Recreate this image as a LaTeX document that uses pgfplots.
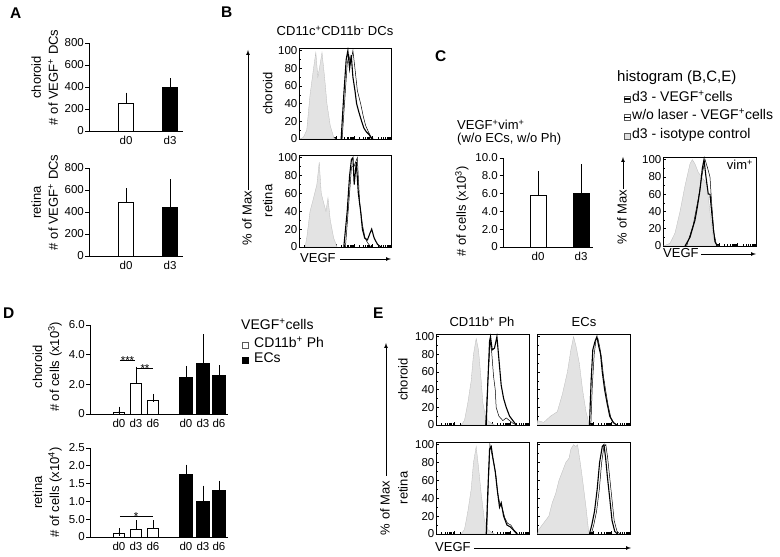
\documentclass[border=0pt]{standalone}
\usepackage{fontspec}
\setmainfont{Liberation Sans}
\usepackage{pgfplots}
\pgfplotsset{compat=1.18}
\newcommand\tf{\fontsize{11.5}{14}\selectfont}
\newcommand\lf{\fontsize{13}{17}\selectfont}
\pgfplotsset{
  bax/.style={scale only axis, axis lines*=left, axis line style={black,line width=0.8pt},
    ymin=0, xmin=0, tick style={black,line width=0.8pt}, tick align=outside,
    major tick length=3.5pt, xtick style={draw=none}, xticklabel style={inner sep=1.5pt},
    yticklabel style={inner sep=1.5pt},
    tick label style={font=\tf}, label style={font=\lf},
    /pgf/number format/assume math mode=true, ylabel style={align=center}, clip=false},
  wbar/.style={ybar, bar shift=0pt, bar width=#1, fill=white, draw=black, line width=0.8pt,
    error bars/.cd, y dir=plus, y explicit, error bar style={black,line width=0.8pt},
    error mark options={black,line width=0.8pt,mark size=4pt}},
  kbar/.style={ybar, bar shift=0pt, bar width=#1, fill=black, draw=black, line width=0.8pt,
    error bars/.cd, y dir=plus, y explicit, error bar style={black,line width=0.8pt},
    error mark options={black,line width=0.8pt,mark size=4pt}},
  hist/.style={scale only axis, xmin=0, xmax=100, ymin=0, ymax=103,
    xtick={0,20,40,60,80,100}, xticklabels={},
    minor xtick={6,9.5,12,14,15.6,16.9,18.1,19.1,26,29.5,32,34,35.6,36.9,38.1,39.1,46,49.5,52,54,55.6,56.9,58.1,59.1,66,69.5,72,74,75.6,76.9,78.1,79.1,86,89.5,92,94,95.6,96.9,98.1,99.1},
    ytick={0,20,40,60,80,100}, minor ytick={10,30,50,70,90},
    xtick pos=bottom, ytick pos=left, tick align=inside,
    major tick length=3pt, minor tick length=1.6pt,
    tick style={black,line width=0.5pt}, axis line style={black,line width=0.8pt},
    yticklabel style={inner sep=1.5pt},
    tick label style={font=\tf}, label style={font=\lf},
    /pgf/number format/assume math mode=true, clip=true},
  gfill/.style={fill=gray!22, draw=gray!55, line width=0.3pt},
  thk/.style={black, line width=1.1pt},
  thn/.style={black, line width=0.5pt},
}
\begin{document}
\lf
\begin{tikzpicture}
\path[use as bounding box] (0pt,0pt) rectangle (780pt,557pt);

% ---------- panel letters ----------
\begingroup\fontsize{15.5}{18}\selectfont\bfseries
\node[anchor=base west,inner sep=0] at (10pt,538pt) {A};
\node[anchor=base west,inner sep=0] at (221pt,539pt) {B};
\node[anchor=base west,inner sep=0] at (435pt,495pt) {C};
\node[anchor=base west,inner sep=0] at (3pt,238pt) {D};
\node[anchor=base west,inner sep=0] at (373pt,238pt) {E};
\endgroup

% ---------- A top ----------
\begin{axis}[bax, at={(89pt,426pt)}, anchor=south west, width=94pt, height=88pt,
  xmax=94, ymax=800, ytick={0,200,400,600,800}, xtick={37,81}, xticklabels={d0,d3},
  ylabel={choroid\\\# of VEGF\textsuperscript{+} DCs},
  ylabel style={at={(axis description cs:-0.47,0.61)}, anchor=center}]
\addplot[wbar=15pt] coordinates {(37,252) +- (0,61)};
\addplot[kbar=15pt] coordinates {(81,398) +- (0,43)};
\end{axis}

% ---------- A bottom ----------
\begin{axis}[bax, at={(89pt,301pt)}, anchor=south west, width=94pt, height=88pt,
  xmax=94, ymax=800, ytick={0,200,400,600,800}, xtick={37,81}, xticklabels={d0,d3},
  ylabel={retina\\\# of VEGF\textsuperscript{+} DCs},
  ylabel style={at={(axis description cs:-0.47,0.61)}, anchor=center}]
\addplot[wbar=15pt] coordinates {(37,485) +- (0,95)};
\addplot[kbar=15pt] coordinates {(81,440) +- (0,222)};
\end{axis}

% ---------- B ----------
\node[anchor=base] at (335pt,521pt) {CD11c\textsuperscript{+}CD11b\textsuperscript{-} DCs};
\node[rotate=90] at (247pt,339pt) {\% of Max};
\draw[-latex, line width=0.7pt] (248pt,367pt) -- (248pt,507pt);
\node[anchor=base west,inner sep=0] at (300pt,294pt) {VEGF};
\draw[-latex, line width=0.7pt] (340pt,298pt) -- (391pt,298pt);

\begin{axis}[hist, at={(299pt,418pt)}, anchor=south west, width=92pt, height=91pt,
  ylabel={choroid}, ylabel style={at={(axis description cs:-0.34,0.5)}, anchor=center}]
\addplot[gfill] coordinates {(1,0)(4.8,2)(8.4,10)(12,50)(15.8,80)(18.3,98)(20.5,70)(23,85)(25,98)(27.8,70)(30.4,40)(34,15)(37.7,2)(39.6,0)} \closedcycle;
\addplot[thn] coordinates {(46.9,0)(49.8,45)(52.4,85)(54.2,95)(56,85)(58.6,100)(60.8,80)(63.4,55)(67,40)(70,25)(72.5,15)(75.5,8)(78,3)(80.6,0)};
\addplot[thk] coordinates {(45.8,0)(48.7,50)(51.3,90)(53.1,100)(55,80)(56.8,95)(58.6,70)(60.8,55)(62.6,40)(65.2,30)(68.1,20)(70.7,12)(73.3,8)(76.2,5)(79.1,0)};
\end{axis}

\begin{axis}[hist, at={(299pt,310pt)}, anchor=south west, width=92pt, height=92pt,
  ylabel={retina}, ylabel style={at={(axis description cs:-0.34,0.5)}, anchor=center}]
\addplot[gfill] coordinates {(6.6,0)(8.4,10)(12,40)(15.8,55)(19.4,70)(22,95)(24.2,60)(26.7,50)(29.3,40)(31.5,55)(34,30)(37.7,10)(41.4,0)} \closedcycle;
\addplot[thn] coordinates {(50.5,0)(54.2,50)(57.1,90)(59.7,90)(63.4,100)(65.9,50)(68.9,25)(71.8,10)(74.4,5)(78,0)};
\addplot[thk] coordinates {(48.7,0)(52.4,40)(55,80)(57,98)(58.6,100)(60,70)(62.3,95)(64.5,60)(67,40)(68.9,20)(71.4,10)(74.4,8)(77,15)(79,20)(81.7,10)(85.3,3)(89,0)};
\end{axis}

% ---------- C ----------
\node[anchor=base west,inner sep=0] at (457pt,427pt) {VEGF\textsuperscript{+}vim\textsuperscript{+}};
\node[anchor=base west,inner sep=0] at (457pt,414pt) {(w/o ECs, w/o Ph)};

\begin{axis}[bax, at={(503pt,310pt)}, anchor=south west, width=90pt, height=89pt,
  xmax=90, ymax=10, ytick={0,2,4,6,8,10}, yticklabels={0,2.0,4.0,6.0,8.0,10.0},
  xtick={35,78}, xticklabels={d0,d3},
  ylabel={\# of cells (x10\textsuperscript{3})},
  ylabel style={at={(axis description cs:-0.456,0.40)}, anchor=center}]
\addplot[wbar=16pt] coordinates {(35,5.85) +- (0,2.26)};
\addplot[kbar=16pt] coordinates {(78,6.04) +- (0,2.83)};
\end{axis}

\begingroup\fontsize{15}{17}\selectfont
\node[anchor=base west,inner sep=0] at (617pt,475pt) {histogram (B,C,E)};
\endgroup
\begingroup\fontsize{14}{16}\selectfont
\draw[gray!70!black, line width=0.5pt] (624pt,455pt) rectangle (630pt,461pt);
\draw[black, line width=1.1pt] (624pt,458pt) -- (630pt,458pt);
\node[anchor=base west,inner sep=0] at (632pt,455pt) {d3 - VEGF\textsuperscript{+}cells};
\draw[gray!70!black, line width=0.5pt] (624pt,437pt) rectangle (630pt,443pt);
\draw[black, line width=0.5pt] (624pt,440pt) -- (630pt,440pt);
\node[anchor=base west,inner sep=0] at (632pt,437pt) {w/o laser - VEGF\textsuperscript{+}cells};
\draw[gray!70!black, fill=gray!25, line width=0.5pt] (624pt,418pt) rectangle (630pt,424pt);
\node[anchor=base west,inner sep=0] at (632pt,418pt) {d3 - isotype control};
\endgroup

\node[rotate=90] at (622pt,340pt) {\% of Max};
\draw[-latex, line width=0.7pt] (623pt,368pt) -- (623pt,400pt);
\node[anchor=base west,inner sep=0] at (663pt,299pt) {VEGF};
\draw[-latex, line width=0.7pt] (701pt,303pt) -- (756pt,303pt);

\begin{axis}[hist, at={(663pt,311pt)}, anchor=south west, width=93pt, height=89pt]
\addplot[gfill] coordinates {(0.4,0)(7.5,3)(12.9,15)(18.3,40)(23.7,70)(29,95)(31.5,100)(34.4,95)(38,85)(41.6,80)(47,72)(50.5,40)(54,10)(57,2)(59.5,0)} \closedcycle;
\addplot[thn] coordinates {(25.4,0)(32.6,25)(38,55)(41.6,80)(45.2,100)(48,90)(50.5,80)(52.3,50)(54.8,15)(57.7,0)};
\addplot[thk] coordinates {(23.7,0)(29,10)(34.4,30)(36.9,45)(39.8,65)(42.3,90)(44.1,100)(46.2,80)(48.7,60)(50.5,60)(52.3,40)(54.1,20)(55.9,5)(58.4,0)};
\node[anchor=north east, inner sep=1pt, font=\lf] at (rel axis cs:0.98,0.98) {vim\textsuperscript{+}};
\end{axis}

% ---------- D ----------
\begin{axis}[bax, at={(90pt,143pt)}, anchor=south west, width=138pt, height=89pt,
  xmax=138, ymax=6, ytick={0,2,4,6}, yticklabels={0,2.0,4.0,6.0},
  xtick={29,46,63,96,113,129}, xticklabels={d0,d3,d6,d0,d3,d6},
  ylabel={choroid\\\# of cells (x10\textsuperscript{3})},
  ylabel style={at={(axis description cs:-0.31,0.53)}, anchor=center}]
\addplot[wbar=11pt] coordinates {(29,0.11) +- (0,0.11) (46,2.07) +- (0,0.85) (63,0.94) +- (0,0.14)};
\addplot[kbar=12.5pt] coordinates {(96,2.47) +- (0,0.50) (113,3.42) +- (0,1.68) (129,2.58) +- (0,0.43)};
\draw[line width=0.7pt] (axis cs:30,3.65) -- (axis cs:45,3.65);
\node[anchor=base, inner sep=0, yshift=-4.5pt, font=\tf] at (axis cs:37.5,3.65) {***};
\draw[line width=0.7pt] (axis cs:47,3.09) -- (axis cs:63,3.09);
\node[anchor=base, inner sep=0, yshift=-4.5pt, font=\tf] at (axis cs:55,3.09) {**};
\end{axis}

\begin{axis}[bax, at={(90pt,20pt)}, anchor=south west, width=138pt, height=89pt,
  xmax=138, ymax=2.5, ytick={0,0.5,1,1.5,2,2.5}, yticklabels={0,5.0,1.0,1.5,2.0,2.5},
  xtick={29,46,63,96,113,129}, xticklabels={d0,d3,d6,d0,d3,d6},
  ylabel={retina\\\# of cells (x10\textsuperscript{4})},
  ylabel style={at={(axis description cs:-0.31,0.50)}, anchor=center}]
\addplot[wbar=11pt] coordinates {(29,0.094) +- (0,0.036) (46,0.225) +- (0,0.14) (63,0.25) +- (0,0.115)};
\addplot[kbar=12.5pt] coordinates {(96,1.75) +- (0,0.17) (113,1.0) +- (0,0.33) (129,1.31) +- (0,0.16)};
\draw[line width=0.7pt] (axis cs:30,0.58) -- (axis cs:63,0.58);
\node[anchor=base, inner sep=0, yshift=-4.5pt, font=\tf] at (axis cs:46,0.58) {*};
\end{axis}

\begingroup\fontsize{14}{16}\selectfont
\node[anchor=base west,inner sep=0] at (241pt,227pt) {VEGF\textsuperscript{+}cells};
\draw[gray!70!black, fill=white, line width=0.5pt] (242pt,209pt) rectangle (248pt,215pt);
\node[anchor=base west,inner sep=0] at (254pt,209pt) {CD11b\textsuperscript{+} Ph};
\draw[black, fill=black, line width=0.5pt] (242pt,194pt) rectangle (248pt,200pt);
\node[anchor=base west,inner sep=0] at (254pt,194pt) {ECs};
\endgroup

% ---------- E ----------
\node[anchor=base] at (482pt,230pt) {CD11b\textsuperscript{+} Ph};
\node[anchor=base] at (584pt,230pt) {ECs};
\node[rotate=90] at (385pt,49pt) {\% of Max};
\draw[-latex, line width=0.7pt] (386pt,81pt) -- (386pt,214pt);
\node[anchor=base west,inner sep=0] at (435pt,5pt) {VEGF};
\draw[-latex, line width=0.7pt] (474pt,9pt) -- (631pt,9pt);

\begin{axis}[hist, at={(436pt,132pt)}, anchor=south west, width=93pt, height=91pt,
  ylabel={choroid}, ylabel style={at={(axis description cs:-0.355,0.5)}, anchor=center}]
\addplot[gfill] coordinates {(27,0)(30.6,5)(34.2,25)(37.8,50)(40.3,80)(43.2,98)(45.7,85)(48.6,50)(50.4,25)(53.2,10)(55.8,5)(59.4,2)(63,0)} \closedcycle;
\addplot[thn] coordinates {(53.2,0)(55.8,50)(58.3,95)(59.7,85)(61.9,55)(63.7,40)(64.7,20)(67.6,10)(71.9,5)(75.5,8)(79.1,5)(82.7,2)(86.3,0)};
\addplot[thk] coordinates {(54,0)(55.8,50)(57.6,95)(58.6,100)(60.4,85)(62.9,87)(65.5,100)(67.6,75)(70.1,45)(72.7,30)(75.5,20)(79.1,10)(82.7,5)(86.3,0)};
\end{axis}

\begin{axis}[hist, at={(537pt,132pt)}, anchor=south west, width=93pt, height=91pt, yticklabels={}]
\addplot[gfill] coordinates {(0,0)(0.5,5)(7.3,3)(14.5,10)(21.8,15)(27.3,35)(32.7,60)(36.4,85)(39.3,100)(41.8,90)(45.5,70)(49,40)(52.7,15)(55.6,3)(57.5,0)} \closedcycle;
\addplot[thn] coordinates {(57.9,0)(59.5,45)(61.5,80)(63.5,97)(65.5,98)(67.5,88)(69.5,75)(71.5,55)(74,38)(76.5,22)(79.5,8)(83,2)(87,0)};
\addplot[thk] coordinates {(56.4,0)(58.2,50)(60,85)(62.5,95)(64.4,100)(66.2,90)(68.4,80)(70.2,60)(72.7,40)(75.3,25)(78.2,10)(81.8,3)(85.5,0)};
\end{axis}

\begin{axis}[hist, at={(436pt,23pt)}, anchor=south west, width=93pt, height=92pt,
  ylabel={retina}, ylabel style={at={(axis description cs:-0.355,0.5)}, anchor=center}]
\addplot[gfill] coordinates {(27,0)(30.6,5)(34.2,25)(37.8,50)(40.3,80)(43.2,98)(45.7,75)(48.6,45)(52.1,15)(55.8,5)(59.4,2)(63,0)} \closedcycle;
\addplot[thn] coordinates {(54.5,0)(56.3,55)(58,100)(60,90)(62,80)(64.5,65)(66.5,45)(69,32)(71,30)(74,18)(77,12)(80.5,10)(83.5,5)(88,0)};
\addplot[thk] coordinates {(54,0)(55.8,50)(57.6,95)(59.4,98)(61.2,85)(63.7,70)(65.8,50)(68.3,30)(70.1,35)(72.7,20)(76.3,10)(79.9,8)(82.7,5)(87,0)};
\end{axis}

\begin{axis}[hist, at={(537pt,23pt)}, anchor=south west, width=93pt, height=92pt, yticklabels={}]
\addplot[gfill] coordinates {(0.7,0)(1.8,5)(5.5,10)(9.1,15)(12.7,20)(16.4,35)(20,45)(23.6,60)(27.3,70)(30.9,80)(34.5,85)(36.4,95)(39.3,100)(41.8,98)(43.6,100)(46.5,80)(49.1,60)(52.7,30)(55.3,5)(56.4,0)} \closedcycle;
\addplot[thn] coordinates {(58.4,0)(61,10)(64,25)(67,50)(69.5,80)(72,98)(74,100)(76,85)(78,65)(80.5,40)(83,15)(86,3)(89,0)};
\addplot[thk] coordinates {(56.4,0)(58.9,10)(61.8,25)(64.7,50)(67.3,80)(70.2,98)(72,100)(73.8,85)(75.6,65)(78.2,40)(80.7,15)(83.6,3)(86.5,0)};
\end{axis}

\end{tikzpicture}
\end{document}
